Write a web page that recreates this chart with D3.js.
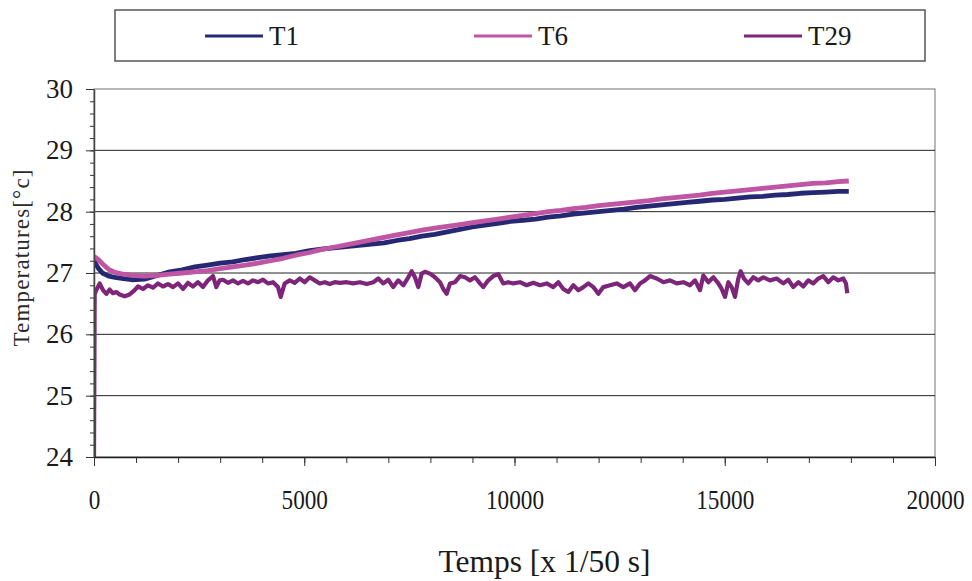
<!DOCTYPE html>
<html><head><meta charset="utf-8">
<script src="https://cdn.jsdelivr.net/npm/d3@7"></script>
<style>
body{margin:0;background:#fff;}
svg{display:block;}
svg text{font-family:"Liberation Serif","Times New Roman",serif !important;}
</style></head>
<body>
<svg id="chart" width="972" height="581"></svg>
<script>
// ---- data ----
const seriesNames = ["T1", "T6", "T29"];
const seriesColors = ["#262873", "#bf55a3", "#7d2679"];
const xTickLabels = [0, 5000, 10000, 15000, 20000];
const yTickLabels = [24, 25, 26, 27, 28, 29, 30];

const timeT1T6 = [0,100,200,350,500,700,900,1200,1500,1800,2100,2400,2700,3000,3300,3600,3900,4200,4500,4800,5100,5400,5700,6000,6300,6600,6900,7200,7500,7800,8100,8400,8700,9000,9300,9600,9900,10200,10500,10800,11100,11400,11700,12000,12300,12600,12900,13200,13500,13800,14100,14400,14700,15000,15300,15600,15900,16200,16500,16800,17100,17400,17700,17950];
const tempT1 = [27.20,27.08,27.00,26.95,26.93,26.91,26.89,26.90,26.96,27.02,27.05,27.10,27.13,27.16,27.18,27.22,27.25,27.28,27.30,27.32,27.36,27.39,27.41,27.43,27.45,27.47,27.49,27.53,27.56,27.60,27.63,27.67,27.71,27.75,27.78,27.81,27.84,27.86,27.88,27.91,27.93,27.96,27.98,28.00,28.02,28.04,28.07,28.09,28.11,28.13,28.15,28.17,28.19,28.20,28.22,28.24,28.25,28.27,28.28,28.30,28.31,28.32,28.33,28.33];
const tempT6 = [27.27,27.22,27.15,27.06,27.01,26.98,26.96,26.95,26.96,26.98,27.00,27.02,27.04,27.07,27.10,27.13,27.16,27.20,27.24,27.29,27.33,27.38,27.42,27.46,27.50,27.54,27.58,27.62,27.66,27.70,27.73,27.76,27.79,27.82,27.85,27.88,27.91,27.94,27.97,28.00,28.02,28.05,28.07,28.10,28.12,28.14,28.16,28.18,28.21,28.23,28.25,28.27,28.30,28.32,28.34,28.36,28.38,28.40,28.42,28.44,28.46,28.47,28.49,28.50];

const timeT29 = [0,16,55,135,214,293,373,452,531,610,729,848,967,1046,1165,1284,1403,1522,1641,1760,1879,1998,2117,2236,2354,2473,2592,2711,2830,2909,2988,3067,3186,3305,3424,3543,3662,3781,3900,4019,4138,4257,4376,4440,4535,4654,4773,4892,5011,5130,5249,5368,5487,5606,5724,5850,6009,6166,6325,6485,6642,6761,6880,6999,7117,7236,7355,7474,7555,7633,7712,7793,7871,7990,8109,8228,8306,8387,8466,8585,8704,8822,8941,9060,9179,9258,9377,9496,9615,9733,9852,9971,10130,10289,10447,10606,10765,10923,11042,11161,11280,11399,11518,11637,11756,11875,11994,12113,12271,12430,12588,12747,12866,12985,13104,13222,13381,13540,13698,13857,14016,14174,14293,14412,14491,14610,14729,14848,14927,15006,15085,15164,15243,15322,15378,15457,15560,15679,15798,15917,16075,16234,16392,16511,16630,16749,16868,16986,17105,17224,17343,17462,17581,17700,17819,17883,17914];
const tempT29 = [24.00,26.66,26.72,26.83,26.72,26.66,26.73,26.67,26.69,26.65,26.62,26.65,26.72,26.78,26.74,26.80,26.76,26.83,26.78,26.82,26.77,26.83,26.74,26.84,26.78,26.85,26.77,26.88,26.95,26.77,26.88,26.89,26.84,26.88,26.83,26.87,26.83,26.88,26.85,26.89,26.83,26.85,26.77,26.61,26.83,26.88,26.84,26.91,26.85,26.93,26.88,26.83,26.85,26.82,26.85,26.84,26.85,26.83,26.85,26.82,26.85,26.91,26.83,26.89,26.77,26.88,26.80,26.93,27.03,26.93,26.77,26.99,27.02,26.99,26.93,26.85,26.74,26.66,26.83,26.85,26.95,26.93,26.88,26.93,26.83,26.77,26.88,26.95,26.98,26.83,26.85,26.83,26.85,26.80,26.84,26.80,26.83,26.77,26.85,26.74,26.69,26.80,26.72,26.77,26.83,26.77,26.66,26.77,26.80,26.83,26.77,26.83,26.72,26.83,26.88,26.95,26.91,26.85,26.88,26.83,26.85,26.80,26.88,26.72,26.96,26.85,26.93,26.83,26.74,26.61,26.85,26.77,26.61,26.91,27.03,26.91,26.83,26.93,26.88,26.93,26.88,26.91,26.83,26.89,26.77,26.85,26.78,26.88,26.83,26.91,26.95,26.85,26.93,26.88,26.91,26.83,26.67];

const xTitle = "Temps [x 1/50 s]";
const yTitle = "Temperatures[°c]";

// ---- layout ----
const svg = d3.select("#chart");
const L = 94, R = 935, T = 89, B = 457;
const x = d3.scaleLinear().domain([0, 20000]).range([L, R]);
const y = d3.scaleLinear().domain([24, 30]).range([B, T]);

svg.append("defs").append("clipPath").attr("id", "plotclip")
  .append("rect").attr("x", L).attr("y", T).attr("width", R - L).attr("height", B - T);

// frame
svg.append("rect").attr("x", L).attr("y", T).attr("width", R - L).attr("height", B - T)
  .attr("fill", "none").attr("stroke", "#8a8a8a").attr("stroke-width", 1.2);

// gridlines
svg.append("g").selectAll("line").data(yTickLabels.filter(v => v > 24 && v < 30)).join("line")
  .attr("x1", L).attr("x2", R).attr("y1", d => y(d)).attr("y2", d => y(d))
  .attr("stroke", "#222").attr("stroke-width", 1);

// series
const seriesData = [
  timeT1T6.map((t, i) => [t, tempT1[i]]),
  timeT1T6.map((t, i) => [t, tempT6[i]]),
  timeT29.map((t, i) => [t, tempT29[i]])
];
const line = d3.line().x(d => x(d[0])).y(d => y(d[1]));
const widths = [4.8, 4.8, 4.2];
const g = svg.append("g").attr("clip-path", "url(#plotclip)");
[0, 1, 2].forEach(i => {
  g.append("path").datum(seriesData[i]).attr("d", line)
    .attr("fill", "none").attr("stroke", seriesColors[i])
    .attr("stroke-width", widths[i]).attr("stroke-linejoin", "round");
});

// y axis
const yMinor = d3.range(24, 30.001, 0.2).map(v => +v.toFixed(1));
svg.append("g").attr("transform", `translate(${L},0)`)
  .call(d3.axisLeft(y).tickValues(yMinor).tickSize(4).tickFormat(""))
  .call(a => a.selectAll("line").attr("stroke", "#333"))
  .call(a => a.select(".domain").remove());
const yAx = svg.append("g").attr("transform", `translate(${L},0)`)
  .call(d3.axisLeft(y).tickValues(yTickLabels).tickSize(8).tickPadding(13).tickSizeOuter(0).tickFormat(d3.format("d")));
yAx.attr("font-family", null);
yAx.select(".domain").attr("stroke", "#444").attr("stroke-width", 1.5);
yAx.selectAll("line").attr("stroke", "#333");
yAx.selectAll("text").attr("font-size", 27).attr("fill", "#1a1a1a");

// x axis
const xMinor = d3.range(0, 20001, 1000);
svg.append("g").attr("transform", `translate(0,${B})`)
  .call(d3.axisBottom(x).tickValues(xMinor).tickSize(6).tickFormat(""))
  .call(a => a.selectAll("line").attr("stroke", "#333"))
  .call(a => a.select(".domain").remove());
const xAx = svg.append("g").attr("transform", `translate(0,${B})`)
  .call(d3.axisBottom(x).tickValues(xTickLabels).tickSize(9).tickPadding(23).tickSizeOuter(0).tickFormat(d3.format("d")));
xAx.attr("font-family", null);
xAx.select(".domain").attr("stroke", "#222").attr("stroke-width", 1.5);
xAx.selectAll("line").attr("stroke", "#333");
xAx.selectAll("text").attr("font-size", 28).attr("fill", "#1a1a1a")
  .each(function(d) {
    const w = String(d).length * 11.6;
    d3.select(this).attr("textLength", w).attr("lengthAdjust", "spacingAndGlyphs");
  });

// axis titles
svg.append("text").attr("x", (L + R) / 2 + 30).attr("y", 572)
  .attr("text-anchor", "middle").attr("font-size", 31).attr("fill", "#1a1a1a")
  .attr("textLength", 212).attr("lengthAdjust", "spacingAndGlyphs")
  .text(xTitle);
svg.append("text").attr("transform", "translate(29,258) rotate(-90)")
  .attr("text-anchor", "middle").attr("font-size", 23).attr("fill", "#2a2a2a")
  .attr("textLength", 177).attr("lengthAdjust", "spacing")
  .text(yTitle);

// legend
const lg = svg.append("g");
lg.append("rect").attr("x", 115).attr("y", 10).attr("width", 810).attr("height", 51)
  .attr("fill", "#fff").attr("stroke", "#555").attr("stroke-width", 1.5);
const legX = [205, 474, 744];
seriesNames.forEach((n, i) => {
  lg.append("line").attr("x1", legX[i]).attr("x2", legX[i] + 58).attr("y1", 36).attr("y2", 36)
    .attr("stroke", seriesColors[i]).attr("stroke-width", 3);
  lg.append("text").attr("x", legX[i] + 64).attr("y", 45).attr("font-size", 27)
    .attr("fill", "#1a1a1a").text(n);
});
</script>
</body></html>
